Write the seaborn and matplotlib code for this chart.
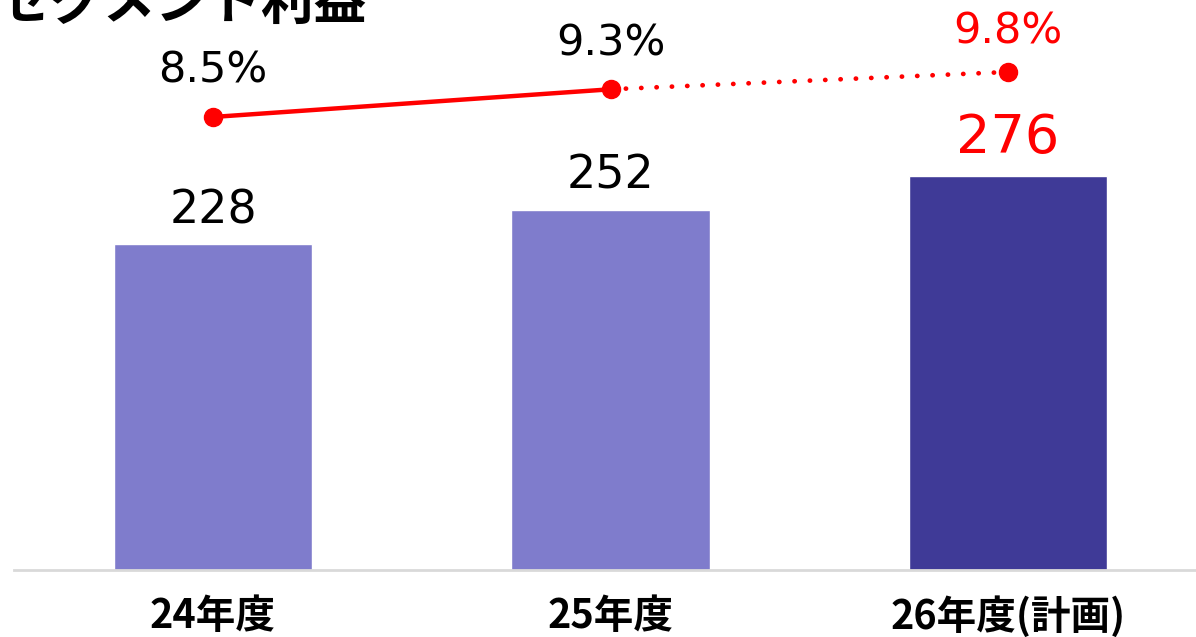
import numpy as np
import matplotlib
matplotlib.use("Agg")
import matplotlib.pyplot as plt
import seaborn as sns

# data
categories = ["24年度", "25年度", "26年度(計画)"]
profit = [228, 252, 276]
margin = [8.5, 9.3, 9.8]
margin_labels = ["8.5%", "9.3%", "9.8%"]
title = "セグメント利益"

sns.set_style("white")
plt.rcParams['font.family'] = ['DejaVu Sans', 'Noto Sans CJK JP']
plt.rcParams['text.color'] = 'black'
plt.rcParams['xtick.color'] = 'black'

W, H = 1196, 637
fig = plt.figure(figsize=(W / 100, H / 100), dpi=100)

# axes placed in pixels: baseline at y=570, first bar center at x=213, step ~397.5
step = 397.5
left_px = 213 - 0.5 * step
ax = fig.add_axes([left_px / W, (H - 570) / H, 3 * step / W, 570 / H])

bar_colors = ["#7F7CCC", "#7F7CCC", "#3F3A97"]
sns.barplot(x=categories, y=profit, hue=categories, palette=bar_colors,
            width=0.5, legend=False, ax=ax, saturation=1)
ax.set_xlim(-0.5, 2.5)
ax.set_ylim(0, 570 / 1.429)

for s in ["top", "right", "left"]:
    ax.spines[s].set_visible(False)
ax.spines["bottom"].set_color("#D9D9D9")
ax.spines["bottom"].set_linewidth(2)
ax.set_yticks([])
ax.set_ylabel("")
ax.tick_params(axis="x", length=0, pad=19)
ax.set_xticks(range(len(categories)))
ax.set_xticklabels(categories, fontsize=28.5, fontweight="bold", color="black",
                   family=['Noto Sans CJK JP', 'DejaVu Sans'])

# bar value labels
label_colors = ["black", "black", "#FF0000"]
label_sizes = [33, 33, 39]
label_offsets = [8, 8, 8]
for i, v in enumerate(profit):
    ax.annotate(str(v), (i, v), xytext=(0, label_offsets[i]), textcoords="offset points",
                ha="center", va="bottom", fontsize=label_sizes[i], color=label_colors[i])

# margin line on twin axis
ax2 = ax.twinx()
ax2.set_ylim(-4.59, 11.88)
ax2.set_axis_off()
xs = np.arange(len(categories))
sns.lineplot(x=xs[:2], y=margin[:2], color="#FF0000", linewidth=3.2, ax=ax2)
sns.lineplot(x=xs[1:], y=margin[1:], color="#FF0000", linewidth=3.4,
             linestyle=(0, (0.05, 3.2)), ax=ax2)
ax2.lines[-1].set_dash_capstyle("round")
ax2.plot(xs, margin, linestyle="none", marker="o", markersize=13, color="#FF0000")

m_colors = ["black", "black", "#FF0000"]
m_sizes = [31, 31, 31]
m_offsets = [18, 18, 14]
for i, v in enumerate(margin):
    ax2.annotate(margin_labels[i], (i, v), xytext=(0, m_offsets[i]), textcoords="offset points",
                 ha="center", va="bottom", fontsize=m_sizes[i], color=m_colors[i])

fig.text(-0.002, 1 - 19 / H, title, fontsize=38, fontweight="bold", color="black",
         family=['Noto Sans CJK JP', 'DejaVu Sans'], ha="left", va="baseline")

fig.savefig("out.png", dpi=100)
